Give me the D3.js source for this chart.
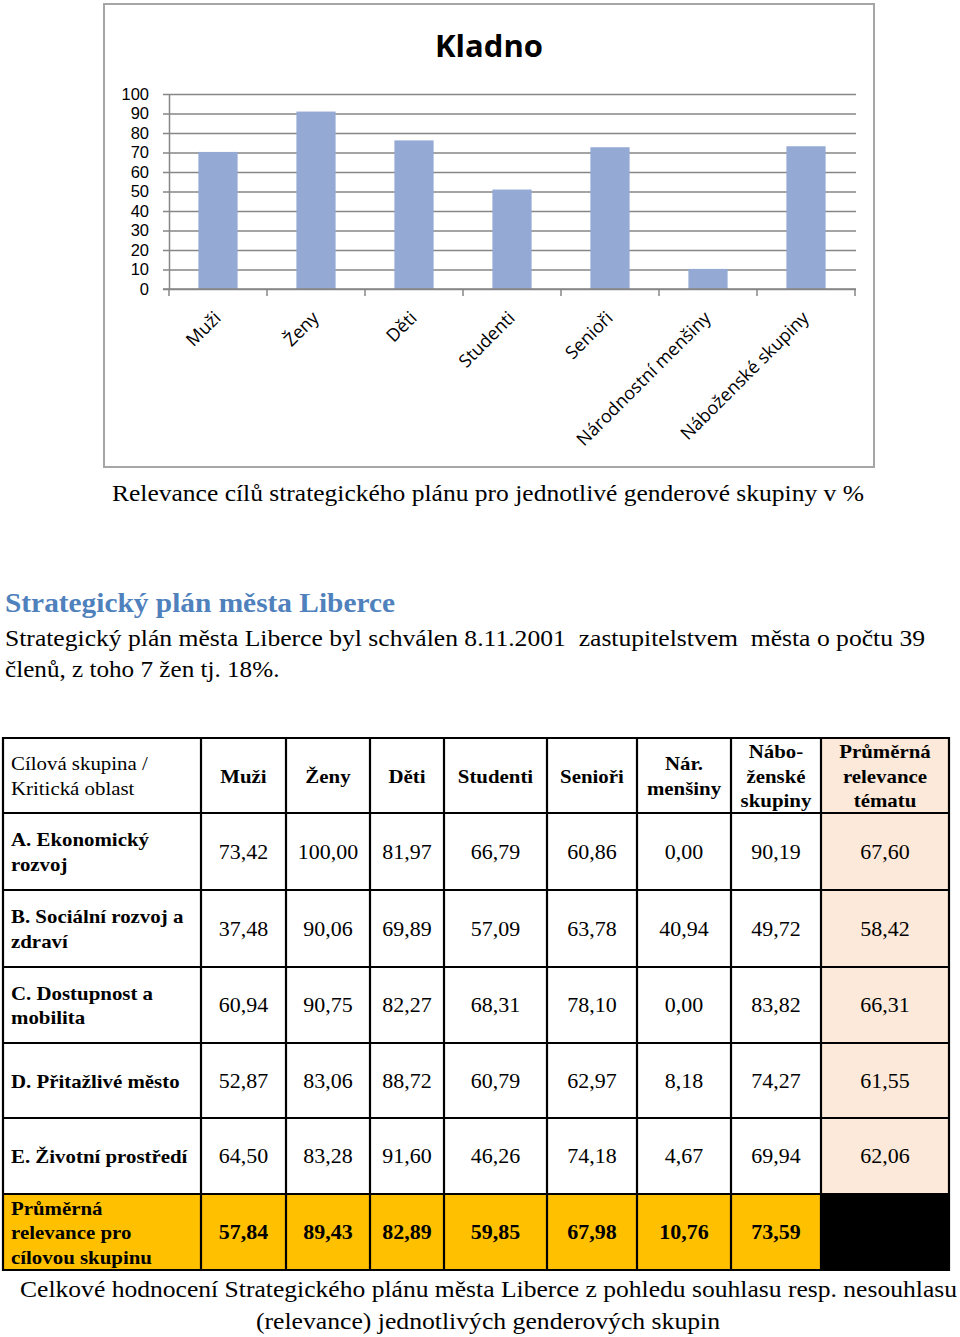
<!DOCTYPE html>
<html>
<head>
<meta charset="utf-8">
<script src="https://cdn.jsdelivr.net/npm/d3@7"></script>
<style>
  body { margin: 0; background: #fff; }
  svg { display: block; }
</style>
</head>
<body>
<svg></svg>
<script>
// bar chart (Kladno)
const groups = ["Muži", "Ženy", "Děti", "Studenti", "Senioři", "Národnostní menšiny", "Náboženské skupiny"];
const kladnoValues = [70.3, 91.0, 76.2, 51.0, 72.7, 10.3, 73.2];
const yTicks = [0, 10, 20, 30, 40, 50, 60, 70, 80, 90, 100];

// table (Liberec)
const headerFirst = ["Cílová skupina /", "Kritická oblast"];
const headers = [["Muži"], ["Ženy"], ["Děti"], ["Studenti"], ["Senioři"], ["Nár.", "menšiny"], ["Nábo-", "ženské", "skupiny"], ["Průměrná", "relevance", "tématu"]];
const areas = [["A. Ekonomický", "rozvoj"], ["B. Sociální rozvoj a", "zdraví"], ["C. Dostupnost a", "mobilita"], ["D. Přitažlivé město"], ["E. Životní prostředí"]];
const econValues = [73.42, 100.00, 81.97, 66.79, 60.86, 0.00, 90.19];
const socialValues = [37.48, 90.06, 69.89, 57.09, 63.78, 40.94, 49.72];
const mobilityValues = [60.94, 90.75, 82.27, 68.31, 78.10, 0.00, 83.82];
const cityValues = [52.87, 83.06, 88.72, 60.79, 62.97, 8.18, 74.27];
const envValues = [64.50, 83.28, 91.60, 46.26, 74.18, 4.67, 69.94];
const topicAverages = [67.60, 58.42, 66.31, 61.55, 62.06];
const groupAverages = [57.84, 89.43, 82.89, 59.85, 67.98, 10.76, 73.59];
const averageLabel = ["Průměrná", "relevance pro", "cílovou skupinu"];

const width = 960, height = 1337;
const serif = "'Liberation Serif', 'Times New Roman', serif";
const sans = "'Open Sans', 'Noto Sans', sans-serif";
const stretch = 1.07; // the scanned page is a little wider than the font

const svg = d3.select("svg").attr("width", width).attr("height", height);

// ---------- chart ----------
const plot = { left: 169, right: 855, top: 94, bottom: 289 };

svg.append("rect")
    .attr("x", 104).attr("y", 4)
    .attr("width", 770).attr("height", 463)
    .attr("fill", "#fff")
    .attr("stroke", "#a6a6a6")
    .attr("stroke-width", 2);

svg.append("text")
    .attr("x", 489).attr("y", 57)
    .attr("text-anchor", "middle")
    .attr("font-family", sans)
    .attr("font-weight", "bold")
    .attr("font-size", 31)
    .text("Kladno");

const xScale = d3.scaleBand().domain(groups).range([plot.left, plot.right]);
const yScale = d3.scaleLinear().domain([0, 100]).range([plot.bottom, plot.top]);

const grid = svg.append("g")
    .attr("transform", `translate(${plot.left}, 0)`)
    .call(d3.axisLeft(yScale).tickValues(yTicks).tickSize(-(plot.right + 1 - plot.left)).tickFormat(""));
grid.select(".domain").remove();
grid.selectAll("line").attr("stroke", "#868686").attr("stroke-width", 1.5);

const yAxis = svg.append("g")
    .attr("transform", `translate(${plot.left}, 0)`)
    .call(d3.axisLeft(yScale).tickValues(yTicks).tickSize(6).tickSizeOuter(0).tickPadding(14));
yAxis.select(".domain").attr("stroke", "#868686").attr("stroke-width", 1.5);
yAxis.selectAll("line").attr("stroke", "#868686").attr("stroke-width", 1.5);
yAxis.selectAll("text")
    .attr("font-family", "'Liberation Sans', Arial, sans-serif")
    .attr("font-size", 16.5)
    .attr("fill", "#000");

const barW = xScale.bandwidth() * 0.4;
svg.selectAll(".bar")
    .data(kladnoValues)
    .enter()
    .append("rect")
    .attr("class", "bar")
    .attr("x", (d, i) => xScale(groups[i]) + (xScale.bandwidth() - barW) / 2)
    .attr("y", (d) => yScale(d))
    .attr("width", barW)
    .attr("height", (d) => yScale(0) - yScale(d))
    .attr("fill", "#94a9d4");

// x axis: ticks between categories, like Excel
const xAxis = svg.append("g");
xAxis.append("line")
    .attr("x1", plot.left - 6).attr("x2", plot.right + 1)
    .attr("y1", yScale(0)).attr("y2", yScale(0))
    .attr("stroke", "#868686").attr("stroke-width", 1.5);
xAxis.selectAll(".xtick")
    .data(groups.concat([null]))
    .enter()
    .append("line")
    .attr("class", "xtick")
    .attr("x1", (d) => (d ? xScale(d) : plot.right))
    .attr("x2", (d) => (d ? xScale(d) : plot.right))
    .attr("y1", yScale(0)).attr("y2", yScale(0) + 7)
    .attr("stroke", "#868686").attr("stroke-width", 1.5);
xAxis.selectAll(".xlabel")
    .data(groups)
    .enter()
    .append("text")
    .attr("class", "xlabel")
    .attr("transform", (d) => `translate(${xScale(d) + xScale.bandwidth() / 2 + 4}, ${yScale(0) + 30}) rotate(-45)`)
    .attr("text-anchor", "end")
    .attr("font-family", sans)
    .attr("font-size", 18)
    .text((d) => d);

// ---------- document text ----------
const addText = (x, y, txt, opts = {}) => {
    const t = svg.append("text")
        .attr("x", x).attr("y", y)
        .attr("font-family", opts.family || serif)
        .attr("font-size", opts.size || 23)
        .attr("font-weight", opts.weight || "normal")
        .attr("fill", opts.fill || "#000")
        .attr("text-anchor", opts.anchor || "start")
        .text(txt);
    const len = opts.len || t.node().getComputedTextLength() * stretch;
    t.attr("textLength", len).attr("lengthAdjust", "spacingAndGlyphs");
    return t;
};

addText(112, 501, "Relevance cílů strategického plánu pro jednotlivé genderové skupiny v %", { size: 23, len: 752 });
addText(5, 612, "Strategický plán města Liberce", { size: 27, weight: "bold", fill: "#4f81bd", len: 390 });
addText(5, 646, "Strategický plán města Liberce byl schválen 8.11.2001\u00a0 zastupitelstvem\u00a0 města o počtu 39", { size: 23.5, len: 920 });
addText(5, 677, "členů, z toho 7 žen tj. 18%.", { size: 23.5 });

// ---------- table ----------
const colEdges = [3, 201, 286, 370, 444, 547, 637, 731, 821, 949];
const rowEdges = [738, 813, 890, 967, 1043, 1118, 1194, 1270];
const lineH = 24.5;
const fmt = d3.formatLocale({ decimal: ",", thousands: " ", grouping: [3], currency: ["", ""] }).format(".2f");
const dataRows = [econValues, socialValues, mobilityValues, cityValues, envValues];

const table = svg.append("g");

// fills
table.selectAll(".avgcell")
    .data(d3.range(rowEdges.length - 2))
    .enter()
    .append("rect")
    .attr("x", colEdges[8]).attr("y", (i) => rowEdges[i])
    .attr("width", colEdges[9] - colEdges[8])
    .attr("height", (i) => rowEdges[i + 1] - rowEdges[i])
    .attr("fill", "#fde9d9");
table.append("rect")
    .attr("x", colEdges[0]).attr("y", rowEdges[6])
    .attr("width", colEdges[8] - colEdges[0]).attr("height", rowEdges[7] - rowEdges[6])
    .attr("fill", "#ffc000");
table.append("rect")
    .attr("x", colEdges[8]).attr("y", rowEdges[6])
    .attr("width", colEdges[9] - colEdges[8]).attr("height", rowEdges[7] - rowEdges[6])
    .attr("fill", "#000");

// grid lines
table.selectAll(".vline")
    .data(colEdges)
    .enter()
    .append("line")
    .attr("x1", (d) => d).attr("x2", (d) => d)
    .attr("y1", rowEdges[0] - 1).attr("y2", rowEdges[rowEdges.length - 1] + 1)
    .attr("stroke", "#000").attr("stroke-width", 2.2);
table.selectAll(".hline")
    .data(rowEdges)
    .enter()
    .append("line")
    .attr("x1", colEdges[0] - 1).attr("x2", colEdges[colEdges.length - 1] + 1)
    .attr("y1", (d) => d).attr("y2", (d) => d)
    .attr("stroke", "#000").attr("stroke-width", 2.2);

// multi-line cell text, vertically centred
const cellText = (lines, col, row, opts = {}) => {
    const cy = (rowEdges[row] + rowEdges[row + 1]) / 2;
    const left = opts.align === "left";
    const x = left ? colEdges[col] + 8 : (colEdges[col] + colEdges[col + 1]) / 2;
    lines.forEach((ln, k) => {
        addText(x, cy - ((lines.length - 1) * lineH) / 2 + k * lineH + 7, ln, {
            size: opts.size || 20,
            weight: opts.weight,
            anchor: left ? "start" : "middle",
        });
    });
};

cellText(headerFirst, 0, 0, { align: "left", size: 19.5 });
headers.forEach((h, j) => cellText(h, j + 1, 0, { weight: "bold", size: 19.5 }));

areas.forEach((a, i) => {
    cellText(a, 0, i + 1, { align: "left", weight: "bold", size: 19.5 });
    dataRows[i].forEach((v, j) => cellText([fmt(v)], j + 1, i + 1, { size: 20.5 }));
    cellText([fmt(topicAverages[i])], 8, i + 1, { size: 20.5 });
});

cellText(averageLabel, 0, 6, { align: "left", weight: "bold", size: 19.5 });
groupAverages.forEach((v, j) => cellText([fmt(v)], j + 1, 6, { weight: "bold", size: 20.5 }));

// caption under table
addText(20, 1297, "Celkové hodnocení Strategického plánu města Liberce z pohledu souhlasu resp. nesouhlasu", { size: 24, len: 937 });
addText(488, 1329, "(relevance) jednotlivých genderových skupin", { size: 24, anchor: "middle" });
</script>
</body>
</html>
